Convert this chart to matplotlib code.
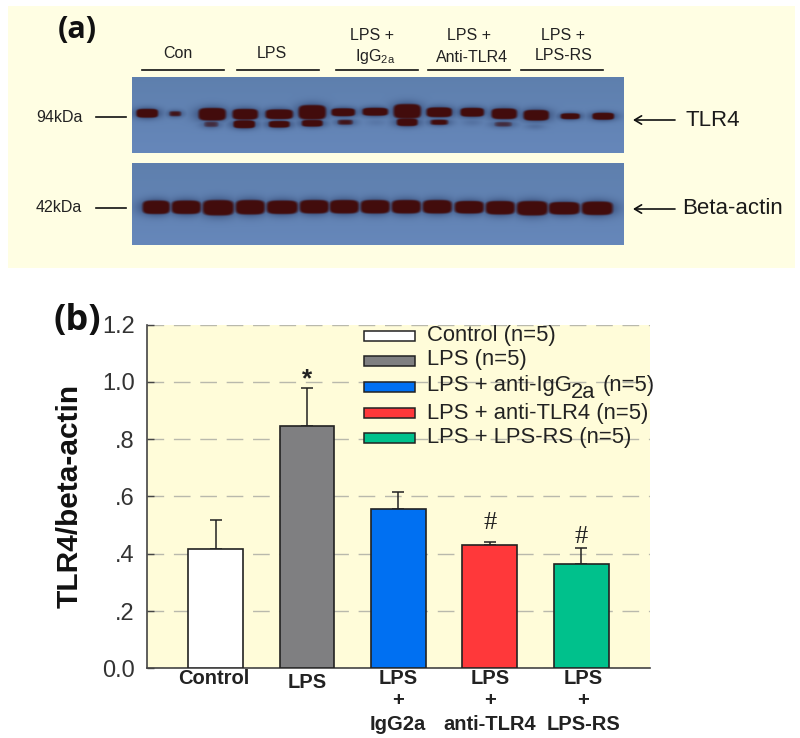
import numpy as np
import matplotlib
matplotlib.use('Agg')
import matplotlib.pyplot as plt
from matplotlib.patches import Rectangle

plt.rcParams['font.family'] = ['Liberation Sans', 'DejaVu Sans']
plt.rcParams['mathtext.fontset'] = 'custom'
plt.rcParams['mathtext.rm'] = 'Liberation Sans'
plt.rcParams['mathtext.default'] = 'regular'

# -----------------------------
# 1) Data
# -----------------------------
groups = ['Control', 'LPS', 'LPS\n+\nIgG2a', 'LPS\n+\nanti-TLR4', 'LPS\n+\nLPS-RS']
means = [0.416, 0.847, 0.556, 0.430, 0.364]
err_up = [0.102, 0.131, 0.061, 0.010, 0.055]
bar_colors = ['#ffffff', '#7f7f81', '#0070f2', '#ff383a', '#00c18c']
marks = ['', '*', '', '#', '#']
mark_gap = [0, 0.03, 0, 0.068, 0.04]
legend_labels = ['Control (n=5)', 'LPS (n=5)', 'LPS + anti-IgG',
                 'LPS + anti-TLR4 (n=5)', 'LPS + LPS-RS (n=5)']
yticks = [0.0, 0.2, 0.4, 0.6, 0.8, 1.0, 1.2]
yticklabels = ['0.0', '.2', '.4', '.6', '.8', '1.0', '1.2']

# western blot lanes: centre, half width, centre y, half height, strength
tlr4_x = [147, 175, 212, 245, 279, 312, 343, 375, 407, 439, 472, 504, 536, 570, 603]
tlr4_w = [10, 6, 13, 12, 13, 13, 11, 12, 13, 12, 11, 12, 12, 9, 10]
tlr4_y = [113, 113.5, 114, 114, 114, 112, 112, 111.5, 111, 112, 112, 113.5, 115, 116, 116]
tlr4_h = [3.5, 2, 5.5, 4.5, 4, 6.5, 3, 3, 6.5, 4, 3.5, 4.5, 4.5, 2, 2.5]
tlr4_s = [1, 0.6, 1, 1, 1, 1, 1, 1, 1, 1, 1, 1, 1, 0.9, 1]
low_x = [211, 244, 279, 312, 345, 376, 407, 439, 472, 503, 535]
low_w = [8, 10, 10, 10, 8, 8, 10, 9, 8, 10, 8]
low_y = [124, 124, 124, 123, 122, 122, 122, 122, 122, 124, 126]
low_h = [2.5, 3, 2.5, 2.5, 2, 2, 3, 2, 2, 2, 1.5]
low_s = [0.5, 1, 0.9, 0.9, 0.6, 0.15, 0.9, 0.7, 0.2, 0.5, 0.25]
actin_x = [156, 186, 218, 250, 282, 314, 344, 375, 406, 437, 469, 500, 532, 564, 597]
actin_w = [13, 14, 15, 14, 15, 14, 14, 14, 14, 14, 14, 14, 15, 15, 15]
actin_y = [207, 207, 207.5, 207, 207, 206.5, 206.5, 206.5, 206.5, 206.5, 207, 207.5, 208, 208, 208]
actin_h = [6, 6, 7, 6.5, 6, 6, 6, 6, 6, 6, 5.5, 6, 6.5, 5.5, 6]


def blot(x0, x1, y0, y1, bands):
    xs = np.arange(x0, x1, 0.5)
    ys = np.arange(y0, y1, 0.5)
    X, Y = np.meshgrid(xs, ys)
    frac = ((Y - y0) / (y1 - y0))[..., None]
    bg = np.array([0.37, 0.50, 0.68]) * (1 - frac) + np.array([0.40, 0.53, 0.73]) * frac
    core = np.zeros_like(X)
    halo = np.zeros_like(X)
    for x, w, y, h, s in bands:
        core = np.maximum(core, s * np.exp(-((X - x) / (w + 1.5)) ** 4 - ((Y - y) / (h + 1.2)) ** 4))
        halo = np.maximum(halo, s * np.exp(-((X - x) / (w + 3)) ** 2 - ((Y - y) / (h + 2)) ** 2))
    core, halo = core[..., None], halo[..., None]
    dark = np.array([0.12, 0.18, 0.34])
    brown = np.array([0.26, 0.05, 0.05])
    img = bg * (1 - halo) + dark * halo
    a = np.clip(core * 3 - 0.9, 0, 1)
    return np.clip(img * (1 - a) + brown * a, 0, 1)


# -----------------------------
# 2) Panel (b) bar chart
# -----------------------------
fig = plt.figure(figsize=(8, 7.38), dpi=100)
ax = fig.add_axes([147 / 800, (738 - 668.3) / 738, 503 / 800, 343.6 / 738])
ax.set_facecolor('#fffcd9')
pos = np.arange(len(means))
ax.bar(pos, means, width=0.6, color=bar_colors, edgecolor='#222222', linewidth=1.2, zorder=3)
ax.errorbar(pos, means, yerr=[np.zeros(len(means)), err_up], fmt='none', ecolor='#222222',
            elinewidth=1.1, capsize=4.5, capthick=1.1, zorder=2)
ax.set_xlim(-0.749, 4.75)
ax.set_ylim(0, 1.2)
ax.set_yticks(yticks)
ax.set_yticklabels(yticklabels, fontsize=17, color='#333333')
ax.set_xticks([])
ax.tick_params(axis='y', direction='in', length=5, width=1, color='#444444', pad=9)
ax.yaxis.grid(True, color='#b9b9ac', lw=1, linestyle=(0, (12, 7)), zorder=1)
ax.set_axisbelow(True)
for s in ['top', 'right']:
    ax.spines[s].set_visible(False)
for s in ['left', 'bottom']:
    ax.spines[s].set_color('#444444')
    ax.spines[s].set_linewidth(1.2)

for i, m in enumerate(marks):
    if m == '*':
        ax.text(pos[i], means[i] + err_up[i] + mark_gap[i], m, ha='center', va='center', fontsize=19,
                fontweight='bold', color='#222222', zorder=4)
    elif m == '#':
        ax.text(pos[i], means[i] + err_up[i] + mark_gap[i], m, ha='center', va='center', fontsize=19,
                family='Liberation Serif', color='#222222', zorder=4)

# -----------------------------
# 3) Overlay in pixel coords for panel (a) and text
# -----------------------------
ov = fig.add_axes([0, 0, 1, 1])
ov.patch.set_visible(False)
ov.axis('off')

ov.add_patch(Rectangle((8, 6), 787, 262, color='#fffee3', lw=0, zorder=0))
top_bands = list(zip(tlr4_x, tlr4_w, tlr4_y, tlr4_h, tlr4_s)) + list(zip(low_x, low_w, low_y, low_h, low_s))
actin_bands = list(zip(actin_x, actin_w, actin_y, actin_h, [1] * len(actin_x)))
ov.imshow(blot(132, 624, 77, 153, top_bands), extent=(132, 624, 153, 77), aspect='auto',
          interpolation='bilinear', zorder=1)
ov.imshow(blot(132, 624, 163, 245, actin_bands), extent=(132, 624, 245, 163), aspect='auto',
          interpolation='bilinear', zorder=1)
ov.set_xlim(0, 800)
ov.set_ylim(738, 0)

ov.text(77, 30, '(a)', fontsize=22, fontweight='bold', family='Open Sans', ha='center', va='center', color='#111111')
ov.text(77, 321, '(b)', fontsize=26, fontweight='bold', family='Open Sans', ha='center', va='center', color='#111111')

lane_labels = [(178, 54, 'Con'), (272, 53, 'LPS'), (372, 35, 'LPS +'), (375, 57, r'IgG$_{2a}$'),
               (469, 35, 'LPS +'), (472, 57, 'Anti-TLR4'), (563, 35, 'LPS +'), (564, 56, 'LPS-RS')]
for x, y, t in lane_labels:
    ov.text(x, y, t, fontsize=11.5, ha='center', va='center', color='#222222')
for x0, x1 in [(141.5, 223.5), (237, 319), (336, 418), (428, 510), (521, 603)]:
    ov.plot([x0, x1], [70, 70], color='#111111', lw=1.2)

for y, t in [(117, '94kDa'), (208, '42kDa')]:
    ov.text(36, y, t, fontsize=11.5, ha='left', va='center', color='#222222')
    ov.plot([96, 126], [y, y], color='#111111', lw=1.2)
for y, t, tx in [(120, 'TLR4', 686), (209, 'Beta-actin', 682)]:
    ov.annotate('', xy=(633, y), xytext=(675, y),
                arrowprops=dict(arrowstyle='->,head_length=0.5,head_width=0.3', color='#111111', lw=1.2,
                                shrinkA=0, shrinkB=0))
    ov.text(tx, y, t, fontsize=16, ha='left', va='center', color='#1a1a1a')

ov.text(70, 496, 'TLR4/beta-actin', rotation=90, fontsize=21.5, fontweight='bold', ha='center', va='center', color='#111111')

# legend
leg_y = [336, 361, 387, 413, 438]
txt_y = [336, 360, 385, 413, 438]
for y, ty, c, t in zip(leg_y, txt_y, bar_colors, legend_labels):
    ov.add_patch(Rectangle((364, y - 5), 50.5, 10, facecolor=c, edgecolor='#222222', lw=1.1, zorder=3))
    ov.text(427, ty, t, fontsize=15.8, ha='left', va='center', color='#222222', zorder=4)
# the subscript in the reference is nearly full size, mathtext would shrink it
ov.text(571, 392, '2a', fontsize=15.8, ha='left', va='center', color='#222222', zorder=4)
ov.text(603, 385, '(n=5)', fontsize=15.8, ha='left', va='center', color='#222222', zorder=4)

# x labels
lab_x = [214, 307, 398, 490, 583]
for x, lab in zip(lab_x, groups):
    lines = lab.split('\n')
    if len(lines) == 1:
        ly = 679 if lab == 'Control' else 682
        ov.text(x, ly, lab, fontsize=14.5, fontweight='bold', ha='center', va='center', color='#222222')
    else:
        for ly, t in zip([679, 701, 724], lines):
            ov.text(x, ly, t, fontsize=14.5, fontweight='bold', ha='center', va='center', color='#222222')

fig.savefig('out.png', dpi=100)
